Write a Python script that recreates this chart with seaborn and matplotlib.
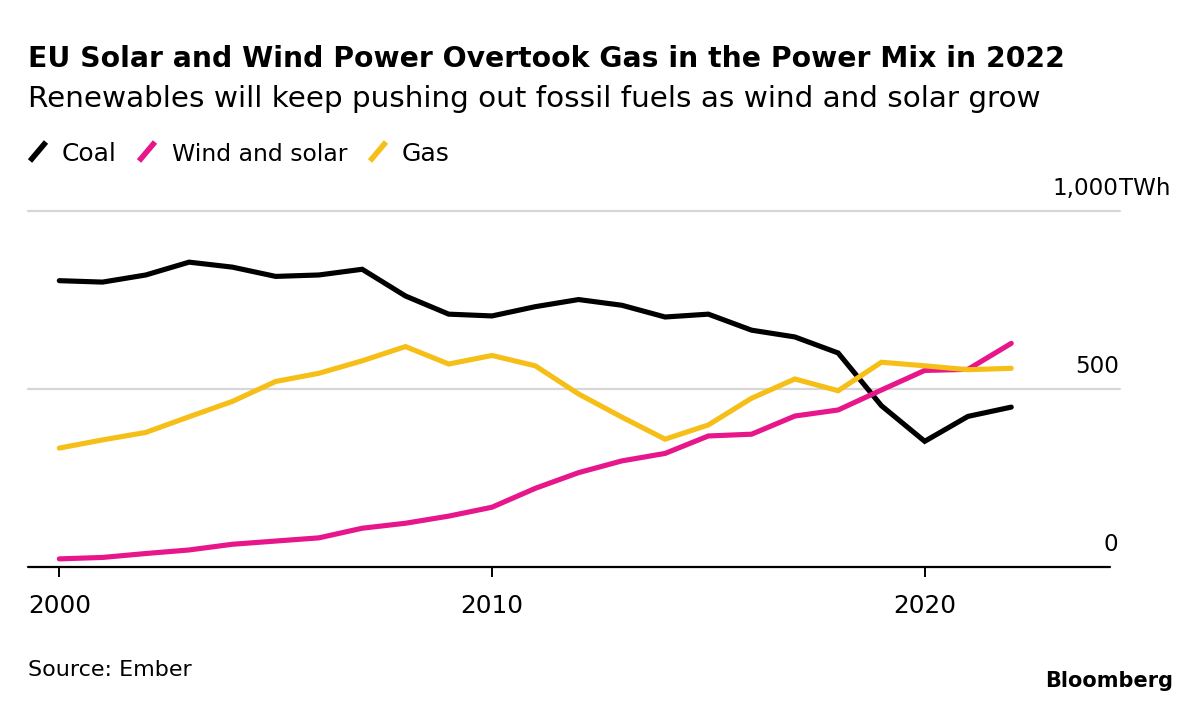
import numpy as np
import pandas as pd
import matplotlib
matplotlib.use("Agg")
import matplotlib.pyplot as plt
from matplotlib.lines import Line2D
import seaborn as sns

years = list(range(2000, 2023))
coal = [803, 799, 819, 855, 841, 815, 819, 835, 760, 709, 704, 730, 750, 734,
        701, 709, 664, 645, 600, 452, 352, 422, 448]
wind_solar = [22, 26, 37, 47, 63, 72, 81, 108, 122, 142, 167, 220, 264, 297,
              318, 367, 372, 423, 440, 496, 551, 554, 627]
gas = [333, 356, 377, 421, 464, 520, 543, 578, 618, 569, 593, 564, 485, 420,
       358, 398, 473, 527, 494, 574, 564, 553, 557]
series_names = ["Coal", "Wind and solar", "Gas"]
colors = ["#000000", "#E8168B", "#F6BF18"]
y_ticks = [0, 500, 1000]
y_labels = ["0", "500", "1,000"]
x_ticks = [2000, 2010, 2020]

df = pd.DataFrame({
    "year": years * 3,
    "value": coal + wind_solar + gas,
    "series": sum([[n] * len(years) for n in series_names], []),
})

sns.set_theme(style="white")
plt.rcParams["font.family"] = ["DejaVu Sans"]

W, H = 1200, 704
fig = plt.figure(figsize=(W / 100, H / 100), dpi=100)
fig.patch.set_facecolor("white")
renderer = fig.canvas.get_renderer()


def fit(t, target_px):
    bb = t.get_window_extent(renderer)
    t.set_fontsize(t.get_fontsize() * target_px / bb.width)
    return t


left_px, right_px, top_px, bot_px = 28, 1120, 210.5, 566.7
ax = fig.add_axes([left_px / W, 1 - bot_px / H, (right_px - left_px) / W, (bot_px - top_px) / H])
ax.set_facecolor("white")

for y in y_ticks[1:]:
    ax.axhline(y, color="#d7d7d7", lw=1.6, zorder=1)
ax.axhline(0, xmin=0, xmax=(1110 - left_px) / (right_px - left_px), color="black", lw=1.6, zorder=1)

sns.lineplot(data=df, x="year", y="value", hue="series", hue_order=series_names,
             palette=colors, linewidth=3.7, legend=False, ax=ax, zorder=3)
for ln in ax.get_lines():
    ln.set_clip_on(False)
    ln.set_solid_capstyle("round")
    ln.set_solid_joinstyle("miter")

px_per_year = 43.27
ax.set_xlim(2000 - (59.3 - left_px) / px_per_year, 2000 + (right_px - 59.3) / px_per_year)
ax.set_ylim(0, 1000)
for s in ax.spines.values():
    s.set_visible(False)
ax.set_xlabel("")
ax.set_ylabel("")
ax.set_yticks([])
ax.set_xticks(x_ticks)
ax.set_xticklabels([str(x) for x in x_ticks], color="black")
ax.tick_params(axis="x", direction="out", length=7.5, width=1.4, color="black", pad=12, bottom=True)
probe = fig.text(0, 0, "2000", fontsize=15)
fit(probe, 63)
tick_fs = probe.get_fontsize()
probe.remove()
for lab in ax.get_xticklabels():
    lab.set_fontsize(tick_fs)

for val, lab in zip(y_ticks, y_labels):
    ax.annotate(lab, xy=(1.0, val), xycoords=("axes fraction", "data"),
                xytext=(-1, 11), textcoords="offset points",
                ha="right", va="baseline", fontsize=tick_fs * 0.93, color="black", annotation_clip=False)
ax.annotate("TWh", xy=(1.0, 1000), xycoords=("axes fraction", "data"),
            xytext=(-1, 11), textcoords="offset points",
            ha="left", va="baseline", fontsize=tick_fs * 0.93, color="black", annotation_clip=False)

t1 = fig.text(28 / W, 1 - 67 / H, "EU Solar and Wind Power Overtook Gas in the Power Mix in 2022",
              fontsize=22, fontweight="bold", ha="left", va="baseline", color="black")
fit(t1, 1032)
t2 = fig.text(28 / W, 1 - 107 / H, "Renewables will keep pushing out fossil fuels as wind and solar grow",
              fontsize=19.5, ha="left", va="baseline", color="black")
fit(t2, 1017)

legend_items = [(28, 62, "Coal", colors[0], 55), (137, 172, "Wind and solar", colors[1], 176),
                (368, 402, "Gas", colors[2], 48)]
for mx, tx, name, c, wpx in legend_items:
    fig.add_artist(Line2D([(mx + 2) / W, (mx + 18) / W], [1 - 161 / H, 1 - 142 / H],
                          color=c, lw=4.0, solid_capstyle="butt", transform=fig.transFigure))
    t = fig.text(tx / W, 1 - 161 / H, name, fontsize=16, ha="left", va="baseline", color="black")
    fit(t, wpx)

ts = fig.text(28 / W, 1 - 676 / H, "Source: Ember", fontsize=14.5, ha="left", va="baseline", color="black")
fit(ts, 165)
tb = fig.text(1173 / W, 1 - 687 / H, "Bloomberg", fontsize=15.5, fontweight="bold", ha="right",
              va="baseline", color="black")
fit(tb, 128)

fig.savefig("out.png", dpi=100, facecolor="white")
